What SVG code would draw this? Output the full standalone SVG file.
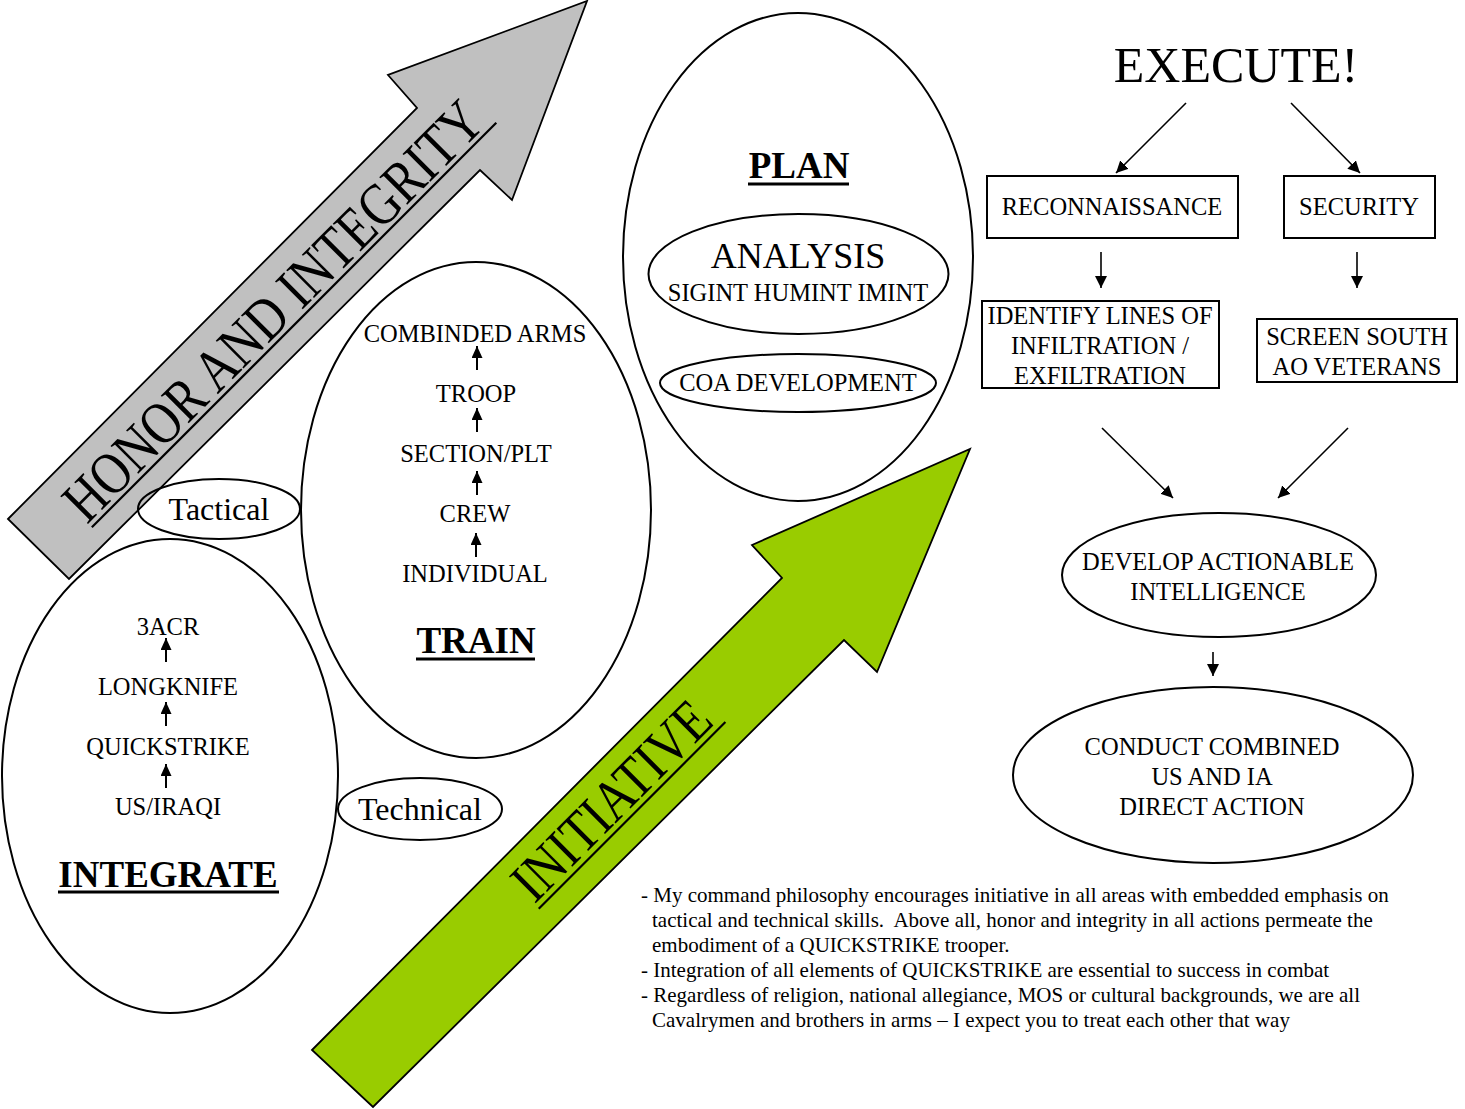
<svg xmlns="http://www.w3.org/2000/svg" width="1465" height="1109" viewBox="0 0 1465 1109" font-family="'Liberation Serif', 'Times New Roman', serif">
<style>
text { font-family: "Liberation Serif", "Times New Roman", "DejaVu Serif", serif; fill: #000; }
.lbl { font-family: "Liberation Serif", "Times New Roman", serif; font-size: 24.5px; text-anchor: middle; }
.title { font-family: "Liberation Serif", "Times New Roman", serif; font-size: 37px; font-weight: bold; text-anchor: middle; }
.side { font-family: "Liberation Serif", "Times New Roman", serif; font-size: 32px; text-anchor: middle; }
.para { font-family: "Liberation Serif", "Times New Roman", serif; font-size: 21px; }
.slant { font-family: "Liberation Serif", "Times New Roman", serif; text-anchor: middle; }
.shape { fill: none; stroke: #000; stroke-width: 2; }
.box { fill: #fff; stroke: #000; stroke-width: 2; }
.conn { stroke: #000; stroke-width: 1.6; fill: none; marker-end: url(#ah); }
.up { stroke: #000; stroke-width: 2; fill: none; marker-end: url(#ahs); }
.ul { stroke: #000; stroke-width: 3; }
.ulb { stroke: #000; stroke-width: 2.2; }
.bigarrow { stroke: #000; stroke-width: 1.8; stroke-linejoin: miter; }
</style>
<defs>
<marker id="ah" markerUnits="userSpaceOnUse" markerWidth="12" markerHeight="12" viewBox="0 0 12 12" refX="12" refY="6" orient="auto">
<path d="M0,0 L12,6 L0,12 z" fill="#000"/>
</marker>
<marker id="ahs" markerUnits="userSpaceOnUse" markerWidth="12" markerHeight="11" viewBox="0 0 12 11" refX="12" refY="5.5" orient="auto">
<path d="M0,0 L12,5.5 L0,11 z" fill="#000"/>
</marker>
</defs>

<g id="honor-arrow">
<polygon class="bigarrow" fill="#C0C0C0" points="8,519 417,108 388,75 587,1 512,200 480,170 69,579"/>
<g transform="translate(287,325) rotate(-45)">
<text class="slant" x="0" y="0" font-size="60" textLength="566" lengthAdjust="spacingAndGlyphs">HONOR AND INTEGRITY</text>
<line class="ulb" x1="-281" y1="5" x2="291" y2="5"/>
</g>
</g>

<g id="initiative-arrow">
<polygon class="bigarrow" fill="#99CC00" points="312,1050 782,578 752,545 970,449 877,672 844,640 373,1107"/>
<g transform="translate(625,814) rotate(-45)">
<text class="slant" x="0" y="0" font-size="58" textLength="256" lengthAdjust="spacingAndGlyphs">INITIATIVE</text>
<line class="ulb" x1="-128" y1="6" x2="136" y2="6"/>
</g>
</g>

<g id="integrate">
<ellipse class="shape" cx="170" cy="776" rx="168" ry="237"/>
<text class="lbl" x="168" y="635">3ACR</text>
<text class="lbl" x="168" y="695">LONGKNIFE</text>
<text class="lbl" x="168" y="755">QUICKSTRIKE</text>
<text class="lbl" x="168" y="815">US/IRAQI</text>
<text class="title" x="168" y="887">INTEGRATE</text>
<line class="ul" x1="58" y1="892" x2="279" y2="892"/>
</g>

<g id="train">
<ellipse class="shape" cx="476" cy="510" rx="175" ry="248"/>
<text class="lbl" x="475" y="342">COMBINDED ARMS</text>
<text class="lbl" x="476" y="402">TROOP</text>
<text class="lbl" x="476" y="462">SECTION/PLT</text>
<text class="lbl" x="475" y="522">CREW</text>
<text class="lbl" x="475" y="582">INDIVIDUAL</text>
<text class="title" x="476" y="653">TRAIN</text>
<line class="ul" x1="416" y1="659" x2="535" y2="659"/>
</g>

<g id="tactical">
<ellipse class="shape" cx="219" cy="509" rx="81" ry="30"/>
<text class="side" x="219" y="520">Tactical</text>
</g>

<g id="technical">
<ellipse class="shape" cx="420" cy="809" rx="82" ry="31"/>
<text class="side" x="420" y="820">Technical</text>
</g>

<g id="plan">
<ellipse class="shape" cx="798" cy="257" rx="175" ry="244"/>
<text class="title" x="799" y="178">PLAN</text>
<line class="ul" x1="748" y1="184" x2="849" y2="184"/>
</g>

<g id="analysis">
<ellipse class="shape" cx="798.5" cy="274" rx="150" ry="60"/>
<text class="slant" x="798" y="268" font-size="36">ANALYSIS</text>
<text class="lbl" x="798" y="301">SIGINT HUMINT IMINT</text>
</g>

<g id="coa">
<ellipse class="shape" cx="798" cy="383" rx="138" ry="29"/>
<text class="lbl" x="798" y="391">COA DEVELOPMENT</text>
</g>

<g id="execute">
<text class="slant" x="1236" y="82" font-size="50">EXECUTE!</text>
</g>

<g id="recon">
<rect class="box" x="987" y="176" width="251" height="62"/>
<text class="lbl" x="1112" y="215">RECONNAISSANCE</text>
</g>

<g id="security">
<rect class="box" x="1284" y="176" width="151" height="62"/>
<text class="lbl" x="1359" y="215">SECURITY</text>
</g>

<g id="identify">
<rect class="box" x="982" y="301" width="237" height="87"/>
<text class="lbl" x="1100" y="324">IDENTIFY LINES OF</text>
<text class="lbl" x="1100" y="354">INFILTRATION /</text>
<text class="lbl" x="1100" y="384">EXFILTRATION</text>
</g>

<g id="screen">
<rect class="box" x="1257" y="319" width="200" height="63"/>
<text class="lbl" x="1357" y="345">SCREEN SOUTH</text>
<text class="lbl" x="1357" y="375">AO VETERANS</text>
</g>

<g id="develop">
<ellipse class="shape" cx="1219" cy="575" rx="157" ry="62"/>
<text class="lbl" x="1218" y="570">DEVELOP ACTIONABLE</text>
<text class="lbl" x="1218" y="600">INTELLIGENCE</text>
</g>

<g id="conduct">
<ellipse class="shape" cx="1213" cy="775" rx="200" ry="88"/>
<text class="lbl" x="1212" y="755">CONDUCT COMBINED</text>
<text class="lbl" x="1212" y="785">US AND IA</text>
<text class="lbl" x="1212" y="815">DIRECT ACTION</text>
</g>

<g id="philosophy">
<text class="para" x="641" y="902">- My command philosophy encourages initiative in all areas with embedded emphasis on</text>
<text class="para" x="652" y="927" xml:space="preserve">tactical and technical skills.  Above all, honor and integrity in all actions permeate the</text>
<text class="para" x="652" y="952">embodiment of a QUICKSTRIKE trooper.</text>
<text class="para" x="641" y="977">- Integration of all elements of QUICKSTRIKE are essential to success in combat</text>
<text class="para" x="641" y="1002">- Regardless of religion, national allegiance, MOS or cultural backgrounds, we are all</text>
<text class="para" x="652" y="1027">Cavalrymen and brothers in arms – I expect you to treat each other that way</text>
</g>

<g id="connectors">
<line class="up" x1="166" y1="662" x2="166" y2="638"/>
<line class="up" x1="166" y1="726" x2="166" y2="702"/>
<line class="up" x1="166" y1="788" x2="166" y2="764"/>
<line class="up" x1="477" y1="370" x2="477" y2="346"/>
<line class="up" x1="477" y1="432" x2="477" y2="408"/>
<line class="up" x1="477" y1="495" x2="477" y2="471"/>
<line class="up" x1="476" y1="557" x2="476" y2="533"/>
<line class="conn" x1="1186" y1="103" x2="1116" y2="173"/>
<line class="conn" x1="1291" y1="103" x2="1360" y2="173"/>
<line class="conn" x1="1101" y1="252" x2="1101" y2="288"/>
<line class="conn" x1="1357" y1="252" x2="1357" y2="288"/>
<line class="conn" x1="1102" y1="428" x2="1173" y2="498"/>
<line class="conn" x1="1348" y1="428" x2="1278" y2="498"/>
<line class="conn" x1="1213" y1="652" x2="1213" y2="676"/>
</g>
</svg>
